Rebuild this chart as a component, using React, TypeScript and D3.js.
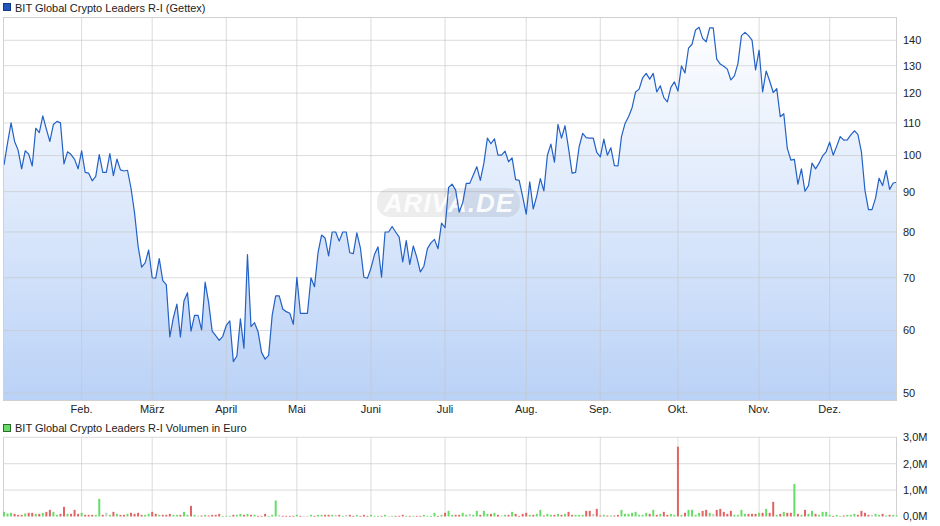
import React from 'react';
import * as d3 from 'd3';

const prices: number[] = [
  97.3, 103.7, 110.0, 104.2, 101.6, 96.2, 101.4, 100.4, 97.0, 108.3, 106.9, 112.3, 108.0, 104.2, 109.5, 110.5, 110.0, 97.6, 101.1, 100.3, 98.9, 96.2, 101.4, 95.2, 95.0, 92.9, 94.1, 100.3, 95.2, 95.2, 100.6, 94.3, 99.0, 95.9, 95.6, 95.8, 90.9, 84.6, 76.8, 72.2, 73.1, 75.9, 70.0, 69.9, 74.0,
  69.4, 68.6, 58.9, 62.3, 64.8, 58.9, 65.4, 67.0, 59.9, 62.7, 62.7, 60.1, 69.1, 65.1, 59.9, 59.1, 58.3, 59.0, 60.9, 61.7, 54.8, 55.7, 62.1, 57.0, 74.9, 60.7, 61.4, 59.8, 56.3, 55.2, 55.8, 62.7, 66.4, 66.4, 63.9, 63.4, 63.1, 61.1, 70.1, 63.1, 63.1, 63.1,
  70.0, 68.2, 75.3, 79.3, 78.6, 74.6, 80.0, 80.0, 77.9, 80.0, 80.0, 75.3, 75.1, 79.8, 76.4, 70.1, 69.9, 72.0, 74.9, 76.6, 70.1, 80.0, 80.0, 81.3, 80.0, 78.8, 73.3, 78.0, 72.8, 76.8, 74.3, 71.2, 72.4, 76.2, 77.5, 78.3, 76.2, 82.1, 81.0, 91.1, 92.0, 90.4, 84.8,
  87.1, 92.2, 92.2, 94.5, 96.8, 93.0, 97.8, 105.2, 103.5, 105.0, 100.1, 100.1, 101.3, 98.2, 99.3, 93.2, 93.0, 88.7, 84.3, 92.6, 85.6, 88.9, 93.5, 90.2, 100.1, 103.4, 98.1, 109.5, 105.2, 109.1, 102.1, 95.0, 95.2, 102.6, 106.7, 105.4, 105.2, 105.2, 100.9, 99.6,
  104.9, 100.1, 102.3, 97.1, 97.0, 105.7, 109.8, 112.0, 115.0, 120.4, 121.4, 125.5, 127.1, 125.0, 127.1, 120.4, 122.6, 118.4, 117.0, 122.0, 124.0, 120.7, 129.9, 127.3, 136.8, 138.4, 144.3, 145.4, 140.8, 139.4, 145.2, 145.2, 132.5, 130.6, 129.8, 128.7, 124.7, 126.2, 130.8, 141.9, 143.3, 141.9, 140.1, 128.4, 136.0,
  120.4, 128.0, 124.3, 120.2, 121.6, 112.0, 113.0, 102.1, 98.7, 98.9, 92.0, 96.2, 90.1, 91.6, 97.8, 96.2, 97.8, 99.9, 101.1, 104.0, 100.1, 102.8, 105.7, 104.6, 104.7, 106.2, 107.5, 106.4, 101.1, 90.4, 85.4, 85.4, 88.3, 93.6, 91.6, 95.7, 90.6, 92.3, 92.5,
];

// Volume in thousand euro
const volumesK: number[] = [
  176, 113, 140, 100, 63, 63, 113, 140, 140, 100,
  100, 140, 176, 252, 176, 63, 100, 365, 100, 100,
  252, 100, 140, 63, 63, 63, 63, 668, 63, 140,
  63, 176, 100, 63, 63, 100, 140, 100, 140, 63,
  63, 100, 176, 100, 63, 63, 63, 100, 63, 63,
  63, 176, 63, 403, 63, 38, 38, 63, 38, 63,
  63, 100, 25, 25, 25, 63, 63, 100, 63, 100,
  63, 63, 25, 25, 100, 25, 63, 605, 63, 25,
  25, 25, 25, 63, 25, 25, 25, 63, 25, 63,
  63, 63, 63, 63, 63, 63, 25, 63, 63, 25,
  63, 25, 63, 25, 63, 25, 25, 25, 63, 25,
  25, 25, 25, 63, 25, 25, 25, 25, 25, 63,
  25, 25, 140, 25, 63, 140, 214, 63, 63, 63,
  140, 63, 100,
  63, 214, 63, 214, 100, 100, 140,
  63, 38, 63, 63, 176, 100, 25, 100, 140, 63,
  63, 100, 252, 38, 100, 63, 63, 100, 63, 100,
  176, 63, 63, 63, 63, 214, 214, 100, 290, 38,
  63, 38, 38, 38, 63, 252, 100, 100, 140, 176,
  63, 63, 140, 100, 252, 63, 100, 176, 63, 100,
  63, 2646, 63, 140, 252, 252, 63, 140, 214, 252,
  140, 100, 252, 290, 176, 100, 214, 63, 63, 252,
  100, 100, 100, 100, 140, 140, 290, 140, 554, 63,
  100, 176, 140, 140, 1235, 100, 63, 252, 100, 214,
  100, 63, 176, 176, 63, 25, 63, 25, 38, 63,
  63, 100, 63, 214, 140, 63, 63, 100, 63, 100,
  38, 63, 63, 38,
];

const monthLabels = ['Feb.', 'März', 'April', 'Mai', 'Juni', 'Juli', 'Aug.', 'Sep.', 'Okt.', 'Nov.', 'Dez.'];
const monthStartIdx = [22, 42, 63, 83, 104, 125, 148, 169, 191, 214, 234];
const priceTicks = [50, 60, 70, 80, 90, 100, 110, 120, 130, 140];
const volumeTicksK = [0, 1000, 2000, 3000];
const volumeTickLabels = ['0,0M', '1,0M', '2,0M', '3,0M'];

const FONT = '"Liberation Sans", Arial, sans-serif';

export default function App() {
  const left = 3, right = 897;
  const pTop = 17, pBottom = 401;
  const vTop = 437.3, vBottom = 516.5;

  const x = d3.scaleLinear().domain([0, prices.length - 1]).range([4, 896.7]);
  const y = d3.scaleLog().domain([50, 140]).range([393, 40.3]);
  const yv = d3.scaleLinear().domain([0, 3000]).range([vBottom, vTop]);

  const area = d3.area<number>().x((_, i) => x(i)).y0(pBottom).y1((d) => y(d));
  const line = d3.line<number>().x((_, i) => x(i)).y((d) => y(d));

  const barColor = (i: number) => {
    if (i === 0) return '#66dd66';
    if (prices[i] > prices[i - 1]) return '#66dd66';
    if (prices[i] < prices[i - 1]) return '#e06464';
    return '#c8c8c8';
  };

  const gridStroke = '#c4c4c4';
  const gridOpacity = 0.6;

  return (
    <svg width={940} height={526} style={{ position: 'absolute', left: 0, top: 0, background: '#fff' }} fontFamily={FONT}>
      <defs>
        <linearGradient id="pfill" gradientUnits="userSpaceOnUse" x1={0} y1={pTop} x2={0} y2={pBottom}>
          <stop offset="0%" stopColor="#ffffff" />
          <stop offset="100%" stopColor="#bad2f7" />
        </linearGradient>
        <clipPath id="pclip">
          <rect x={left} y={pTop} width={right - left} height={pBottom - pTop} />
        </clipPath>
      </defs>

      {/* Price legend */}
      <rect x={3.5} y={3.5} width={7} height={7} fill="#1f56bf" stroke="#163a85" />
      <text x={15} y={12} fontSize={11} fill="#222">BIT Global Crypto Leaders R-I (Gettex)</text>

      {/* Price panel */}
      <g clipPath="url(#pclip)">
        <path d={area(prices) || ''} fill="url(#pfill)" />
      </g>
      {priceTicks.map((t) => (
        <line key={'hg' + t} x1={left} x2={right} y1={y(t)} y2={y(t)} stroke={gridStroke} strokeOpacity={gridOpacity} />
      ))}
      {monthStartIdx.map((m) => (
        <line key={'vg' + m} x1={x(m)} x2={x(m)} y1={pTop} y2={pBottom} stroke={gridStroke} strokeOpacity={gridOpacity} />
      ))}
      {/* Watermark */}
      <rect x={377} y={188} width={143} height={29} rx={13} fill="#000" fillOpacity={0.07} />
      <text x={449} y={212} textAnchor="middle" fontSize={26} fontWeight="bold" fontStyle="italic" fill="#fff" fillOpacity={0.9} letterSpacing={1}>ARIVA.DE</text>

      <g clipPath="url(#pclip)">
        <path d={line(prices) || ''} fill="none" stroke="#2361c6" strokeWidth={1.2} strokeLinejoin="round" />
      </g>
      <rect x={left + 0.5} y={pTop + 0.5} width={right - left - 1} height={pBottom - pTop - 1} fill="none" stroke="#d0d0d0" />

      {priceTicks.map((t) => (
        <text key={'pt' + t} x={903} y={y(t)} dy="0.35em" fontSize={11} fill="#222">{t}</text>
      ))}
      {monthLabels.map((lbl, i) => (
        <text key={'ml' + lbl} x={x(monthStartIdx[i])} y={413} textAnchor="middle" fontSize={11} fill="#222">{lbl}</text>
      ))}

      {/* Volume legend */}
      <rect x={3.5} y={424.5} width={7} height={7} fill="#66dd66" stroke="#2c6b2c" />
      <text x={15} y={432} fontSize={11} fill="#222">BIT Global Crypto Leaders R-I Volumen in Euro</text>

      {/* Volume panel */}
      {volumeTicksK.slice(1).map((t) => (
        <line key={'vh' + t} x1={left} x2={right} y1={yv(t)} y2={yv(t)} stroke={gridStroke} strokeOpacity={gridOpacity} />
      ))}
      {monthStartIdx.map((m) => (
        <line key={'vv' + m} x1={x(m)} x2={x(m)} y1={vTop} y2={vBottom} stroke={gridStroke} strokeOpacity={gridOpacity} />
      ))}
      <line x1={left + 0.5} x2={left + 0.5} y1={vTop} y2={vBottom} stroke="#d0d0d0" />
      <line x1={right - 0.5} x2={right - 0.5} y1={vTop} y2={vBottom} stroke="#d0d0d0" />
      {volumesK.map((v, i) => (
        <rect key={'vb' + i} x={x(i) - 1} y={yv(v)} width={2} height={Math.max(0.8, vBottom - yv(v))} fill={barColor(i)} />
      ))}
      {volumeTicksK.map((t, i) => (
        <text key={'vt' + t} x={903} y={yv(t)} dy="0.35em" fontSize={11} fill="#222">{volumeTickLabels[i]}</text>
      ))}
    </svg>
  );
}
